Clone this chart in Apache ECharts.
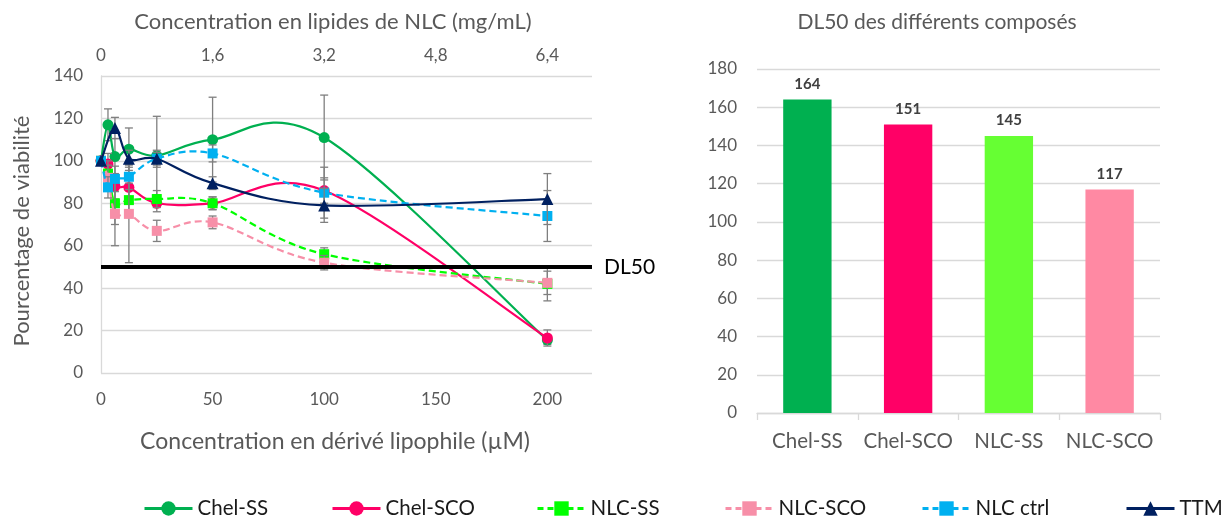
<!DOCTYPE html>
<html>
<head>
<meta charset="utf-8">
<script src="https://cdn.jsdelivr.net/npm/echarts@6/dist/echarts.min.js"></script>
<style>
html,body{margin:0;padding:0;background:#fff;}
#chart{width:1224px;height:521px;}
</style>
</head>
<body>
<div id="chart"></div>
<script>
// ---------- data ----------
const xConc = [0, 3.125, 6.25, 12.5, 25, 50, 100, 200];
const xTTM = [0, 6.25, 12.5, 25, 50, 100, 200];

const chelSS = [100, 117, 102, 105.5, 102.5, 110, 111, 15.5];
const chelSSErr = [0, 7.5, 8.5, 10, 18.5, 20, 20, 2];
const chelSCO = [100, 98.5, 88, 87.5, 80, 80, 86, 16.5];
const chelSCOErr = [0, 5, 6, 6, 4, 3, 6, 3.8];
const nlcSS = [100, 94, 80, 81.5, 82, 80, 56, 42];
const nlcSSErr = [0, 6, 10, 8, 4, 3, 3, 8];
const nlcSCO = [100, 92, 75, 75, 67, 71, 52, 42.5];
const nlcSCOErr = [0, 6, 15, 23, 5, 3, 3.4, 5.5];
const nlcCtrl = [100, 87.5, 91.5, 92.5, 101, 103.5, 85, 74];
const nlcCtrlErr = [0, 5, 6, 6, 4, 4, 12, 12];
const ttm = [100, 115.5, 101, 101, 89.5, 79, 82];
const ttmErr = [0, 5, 4, 3, 3, 8, 12];

const dl50Line = 50;
const xMaxUM = 220;
const topAxisMax = 7.04; // mg/mL equivalent of xMaxUM

const barCategories = ['Chel-SS', 'Chel-SCO', 'NLC-SS', 'NLC-SCO'];
const barValues = [164, 151, 145, 117];
const barColors = ['#00B050', '#FF0066', '#66FF33', '#FF89A3'];

// ---------- helpers ----------
const FONT = 'Lato, "Noto Sans", sans-serif';
const zip = (xs, ys) => xs.map((x, i) => [x, ys[i]]);
const errData = (xs, ys, es) => xs.map((x, i) => [x, ys[i] - es[i], ys[i] + es[i]]).filter((d, i) => es[i] > 0);

function errRender(params, api) {
  const x = api.value(0), lo = api.value(1), hi = api.value(2);
  const p1 = api.coord([x, hi]);
  const p2 = api.coord([x, lo]);
  const hw = 4;
  const st = {stroke: '#7F7F7F', lineWidth: 1.3};
  return {
    type: 'group',
    children: [
      {type: 'line', shape: {x1: p1[0], y1: p1[1], x2: p2[0], y2: p2[1]}, style: st},
      {type: 'line', shape: {x1: p1[0] - hw, y1: p1[1], x2: p1[0] + hw, y2: p1[1]}, style: st},
      {type: 'line', shape: {x1: p2[0] - hw, y1: p2[1], x2: p2[0] + hw, y2: p2[1]}, style: st}
    ]
  };
}

// Smoothed (Catmull-Rom style, as in spreadsheet charts) path through the data points,
// mapped through the chart's own axes with api.coord.
function curveRender(def) {
  return function (params, api) {
    if (params.dataIndex !== 0) return null;
    const P = def.xs.map((x, i) => api.coord([x, def.ys[i]]));
    const n = P.length;
    const g = i => P[Math.max(0, Math.min(n - 1, i))];
    let d = 'M' + P[0][0] + ' ' + P[0][1];
    for (let i = 0; i < n - 1; i++) {
      const p0 = g(i - 1), p1 = g(i), p2 = g(i + 1), p3 = g(i + 2);
      const c1x = p1[0] + (p2[0] - p0[0]) / 6, c1y = p1[1] + (p2[1] - p0[1]) / 6;
      const c2x = p2[0] - (p3[0] - p1[0]) / 6, c2y = p2[1] - (p3[1] - p1[1]) / 6;
      d += ' C' + c1x + ' ' + c1y + ' ' + c2x + ' ' + c2y + ' ' + p2[0] + ' ' + p2[1];
    }
    return {
      type: 'path',
      shape: {pathData: d},
      style: {stroke: def.color, lineWidth: 2.2, fill: null, lineDash: def.dash || null}
    };
  };
}

const lineDefs = [
  {name: 'Chel-SS', xs: xConc, ys: chelSS, es: chelSSErr, color: '#00B050', dash: null, symbol: 'circle', size: 11},
  {name: 'Chel-SCO', xs: xConc, ys: chelSCO, es: chelSCOErr, color: '#FF0066', dash: null, symbol: 'circle', size: 11},
  {name: 'NLC-SS', xs: xConc, ys: nlcSS, es: nlcSSErr, color: '#00FF00', dash: [7, 4], symbol: 'rect', size: 10},
  {name: 'NLC-SCO', xs: xConc, ys: nlcSCO, es: nlcSCOErr, color: '#F78FA8', dash: [7, 4], symbol: 'rect', size: 10},
  {name: 'NLC ctrl', xs: xConc, ys: nlcCtrl, es: nlcCtrlErr, color: '#00B0F0', dash: [7, 4], symbol: 'rect', size: 10},
  {name: 'TTM', xs: xTTM, ys: ttm, es: ttmErr, color: '#002060', dash: null, symbol: 'triangle', size: 12}
];

const series = [];
lineDefs.forEach((d, i) => {
  series.push({
    type: 'custom', name: d.name + '-err', xAxisIndex: 0, yAxisIndex: 0,
    renderItem: errRender, data: errData(d.xs, d.ys, d.es), z: 2 + i * 3, silent: true,
    encode: {x: 0, y: [1, 2]}
  });
  series.push({
    type: 'custom', name: d.name + '-curve', xAxisIndex: 0, yAxisIndex: 0,
    renderItem: curveRender(d), data: zip(d.xs, d.ys), z: 3 + i * 3, silent: true,
    encode: {x: 0, y: 1}
  });
  series.push({
    type: 'line', name: d.name, xAxisIndex: 0, yAxisIndex: 0,
    data: zip(d.xs, d.ys),
    symbol: d.symbol, symbolSize: d.size, showAllSymbol: true,
    lineStyle: {color: d.color, width: 2.2, opacity: 0},
    itemStyle: {color: d.color},
    z: 4 + i * 3
  });
});

series.push({
  type: 'line', name: 'DL50', xAxisIndex: 0, yAxisIndex: 0,
  data: [[0, dl50Line], [xMaxUM, dl50Line]], symbol: 'none',
  lineStyle: {color: '#000', width: 4}, z: 30, silent: true,
  endLabel: {show: true, formatter: 'DL50', color: '#000', fontSize: 21, fontFamily: FONT, distance: 12}
});

series.push({
  type: 'bar', xAxisIndex: 2, yAxisIndex: 1,
  data: barValues.map((v, i) => ({value: v, itemStyle: {color: barColors[i]}})),
  barWidth: '48%',
  label: {show: true, position: 'top', distance: 8, fontWeight: 'bold', fontSize: 15, color: '#404040', fontFamily: FONT}
});

const legendStarts = [138, 326, 531, 719, 916, 1120];
const legends = lineDefs.map((d, i) => ({
  data: [d.name], left: legendStarts[i], top: 493,
  itemWidth: 48, itemHeight: 18, itemGap: 0,
  lineStyle: {color: d.color, width: 3, type: d.dash ? [6, 4] : 'solid', opacity: 1},
  textStyle: {fontSize: 20.5, color: '#1a1a1a', fontFamily: FONT}
}));

const axisLabelStyle = {color: '#595959', fontSize: 17, fontFamily: FONT};
const titleStyle = {fontSize: 22, fontWeight: 'normal', color: '#595959', fontFamily: FONT};

const option = {
  animation: false,
  backgroundColor: '#fff',
  textStyle: {fontFamily: FONT},
  legend: legends,
  title: [
    {text: 'Concentration en lipides de NLC (mg/mL)', left: 328, top: 6, textAlign: 'center', textStyle: titleStyle},
    {text: 'Concentration en dérivé lipophile (µM)', left: 330, top: 425, textAlign: 'center',
      textStyle: Object.assign({}, titleStyle, {fontSize: 23})},
    {text: 'DL50 des différents composés', left: 932, top: 7, textAlign: 'center',
      textStyle: Object.assign({}, titleStyle, {fontSize: 21})}
  ],
  graphic: [
    {type: 'text', x: 22, y: 231, rotation: Math.PI / 2,
      style: {text: 'Pourcentage de viabilité', fill: '#595959', font: '22px ' + FONT, textAlign: 'center', textVerticalAlign: 'middle'}}
  ],
  grid: [
    {left: 101, right: 1224 - 592, top: 76, bottom: 521 - 373},
    {left: 757, right: 1224 - 1160, top: 69, bottom: 521 - 413}
  ],
  xAxis: [
    {type: 'value', gridIndex: 0, min: 0, max: xMaxUM, interval: 50, position: 'bottom',
      axisLine: {show: false}, axisTick: {show: false}, splitLine: {show: false},
      axisLabel: Object.assign({margin: 18, showMaxLabel: false}, axisLabelStyle)},
    {type: 'value', gridIndex: 0, min: 0, max: topAxisMax, interval: 1.6, position: 'top',
      axisLine: {show: false}, axisTick: {show: false}, splitLine: {show: false},
      axisLabel: Object.assign({margin: 12, showMaxLabel: false,
        formatter: v => v === 0 ? '0' : v.toFixed(1).replace('.', ',')}, axisLabelStyle)},
    {type: 'category', gridIndex: 1, data: barCategories,
      axisLine: {show: true, lineStyle: {color: '#D9D9D9', width: 1.3}},
      axisTick: {show: true, length: 7, lineStyle: {color: '#D9D9D9', width: 1.3}},
      axisLabel: {color: '#595959', fontSize: 20.5, fontFamily: FONT, margin: 18, interval: 0, hideOverlap: false}}
  ],
  yAxis: [
    {type: 'value', gridIndex: 0, min: 0, max: 140, interval: 20,
      axisLine: {show: true, lineStyle: {color: '#D9D9D9', width: 1.3}}, axisTick: {show: false},
      splitLine: {show: true, lineStyle: {color: '#D9D9D9', width: 1.3}},
      axisLabel: Object.assign({margin: 18}, axisLabelStyle)},
    {type: 'value', gridIndex: 1, min: 0, max: 180, interval: 20,
      axisLine: {show: false}, axisTick: {show: false},
      splitLine: {show: true, lineStyle: {color: '#D9D9D9', width: 1.3}},
      axisLabel: Object.assign({margin: 20}, axisLabelStyle)}
  ],
  series: series
};

const chart = echarts.init(document.getElementById('chart'));
chart.setOption(option);
</script>
</body>
</html>
